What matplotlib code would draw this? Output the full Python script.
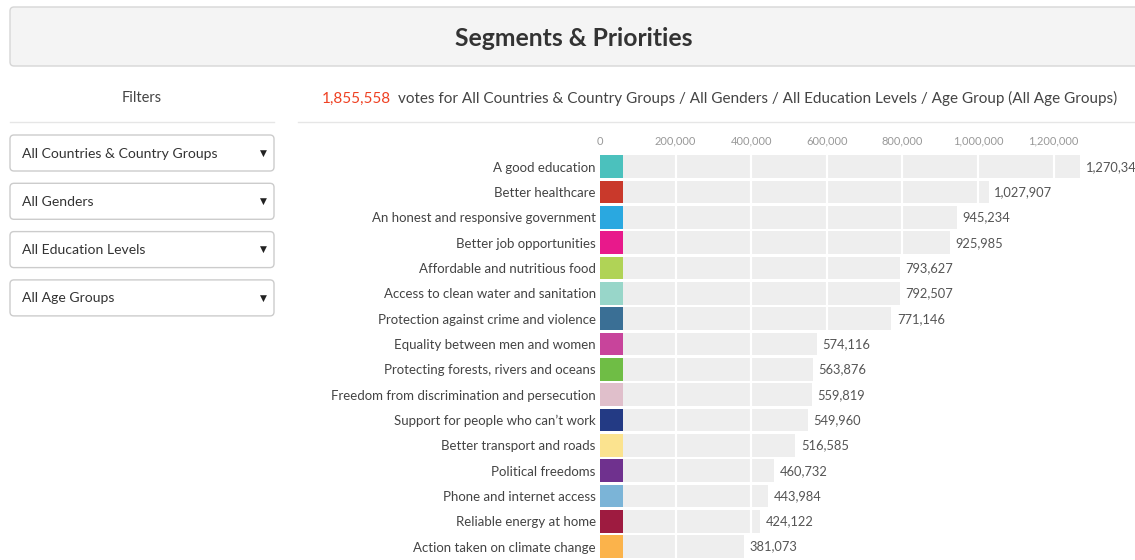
import matplotlib
matplotlib.use("Agg")
import matplotlib.pyplot as plt
from matplotlib.patches import FancyBboxPatch

# ---------------- data ----------------
categories = [
    "A good education",
    "Better healthcare",
    "An honest and responsive government",
    "Better job opportunities",
    "Affordable and nutritious food",
    "Access to clean water and sanitation",
    "Protection against crime and violence",
    "Equality between men and women",
    "Protecting forests, rivers and oceans",
    "Freedom from discrimination and persecution",
    "Support for people who can\u2019t work",
    "Better transport and roads",
    "Political freedoms",
    "Phone and internet access",
    "Reliable energy at home",
    "Action taken on climate change",
]
votes = [1270345, 1027907, 945234, 925985, 793627, 792507, 771146, 574116,
         563876, 559819, 549960, 516585, 460732, 443984, 424122, 381073]
colors = ["#4bc1bd", "#c9392b", "#2aa8e0", "#e8198b", "#b0d356", "#98d6c9",
          "#3a6f95", "#c8449b", "#6fbd45", "#e0bfcb", "#233a84", "#fbe38f",
          "#6f318e", "#7bb4d7", "#9e1b40", "#fbb34b"]
x_ticks = [0, 200000, 400000, 600000, 800000, 1000000, 1200000]
x_tick_labels = ["0", "200,000", "400,000", "600,000", "800,000", "1,000,000", "1,200,000"]
total_votes = "1,855,558"
subtitle_rest = "votes for All Countries & Country Groups / All Genders / All Education Levels / Age Group (All Age Groups)"
title = "Segments & Priorities"
filters_label = "Filters"
filter_options = ["All Countries & Country Groups", "All Genders", "All Education Levels", "All Age Groups"]

# ---------------- figure ----------------
W, H = 1135, 560
fig = plt.figure(figsize=(W / 100, H / 100), dpi=100)
fig.patch.set_facecolor("white")
FONT = "Lato"

# overlay axes in pixel coordinates for the dashboard chrome
ov = fig.add_axes([0, 0, 1, 1])
ov.set_xlim(0, W)
ov.set_ylim(H, 0)
ov.axis("off")
ov.set_zorder(0)

# header box
ov.add_patch(FancyBboxPatch((10, 7), 1140, 59, boxstyle="round,pad=0,rounding_size=4",
                            facecolor="#f4f4f4", edgecolor="#d6d6d6", linewidth=1.0))
ov.text(574, 38, title, ha="center", va="center", fontsize=17.8, fontweight="bold",
        color="#333333", family=FONT)

# filters header
ov.text(142, 98.5, filters_label, ha="center", va="center", fontsize=10.5, color="#444444", family=FONT)
ov.plot([10, 274], [122, 122], color="#e6e6e6", lw=1)
ov.plot([298, 1135], [122, 122], color="#e6e6e6", lw=1)

# subtitle
red = ov.text(322, 98.5, total_votes, ha="left", va="center", fontsize=11, color="#ef4123", family=FONT)
ov.annotate(subtitle_rest, xy=(1, 0), xycoords=red, xytext=(5, 0), textcoords="offset points",
            ha="left", va="bottom", fontsize=11, color="#444444", family=FONT)

# filter dropdowns
for k, opt in enumerate(filter_options):
    top = 135 + k * 48.3
    ov.add_patch(FancyBboxPatch((10, top), 264, 36, boxstyle="round,pad=0,rounding_size=4",
                                facecolor="white", edgecolor="#cccccc", linewidth=1.0))
    ov.text(22, top + 18.5, opt, ha="left", va="center", fontsize=10.1, color="#333333", family=FONT)
    ov.text(263, top + 18, "\u25BC", ha="center", va="center", fontsize=6.5, color="#222222",
            family="DejaVu Sans")

# ---------------- bar chart ----------------
x0_px, top_px = 600, 150
px_per_unit = 0.000378
row0_px, pitch_px = 166.7, 25.33
ax = fig.add_axes([x0_px / W, 0, (W - x0_px) / W, (H - top_px) / H])
ax.set_zorder(1)
ax.patch.set_alpha(0)
ax.set_xlim(0, (W - x0_px) / px_per_unit)
ax.set_ylim((H - row0_px) / pitch_px, (top_px - row0_px) / pitch_px)

ypos = list(range(len(categories)))
bar_h = 0.89
ax.barh(ypos, votes, height=bar_h, color="#eeeeee", zorder=1)
swatch_w = 23 / px_per_unit
ax.barh(ypos, [swatch_w] * len(ypos), height=bar_h, color=colors, zorder=3)

for t in x_ticks[1:]:
    ax.axvline(t, color="white", lw=1.6, zorder=2)

for y, v in zip(ypos, votes):
    ax.annotate(f"{v:,}", xy=(v, y), xytext=(4, 0), textcoords="offset points",
                ha="left", va="center", fontsize=9.3, color="#555555", family=FONT,
                annotation_clip=False)

ax.xaxis.tick_top()
ax.set_xticks(x_ticks)
ax.set_xticklabels(x_tick_labels, fontsize=8, color="#999999", family=FONT)
ax.set_yticks(ypos)
ax.set_yticklabels(categories, fontsize=9.5, color="#444444", family=FONT)
ax.tick_params(axis="both", length=0)
ax.tick_params(axis="x", pad=2.5)
ax.tick_params(axis="y", pad=3)
for s in ax.spines.values():
    s.set_visible(False)

fig.savefig("out.png", dpi=100)
